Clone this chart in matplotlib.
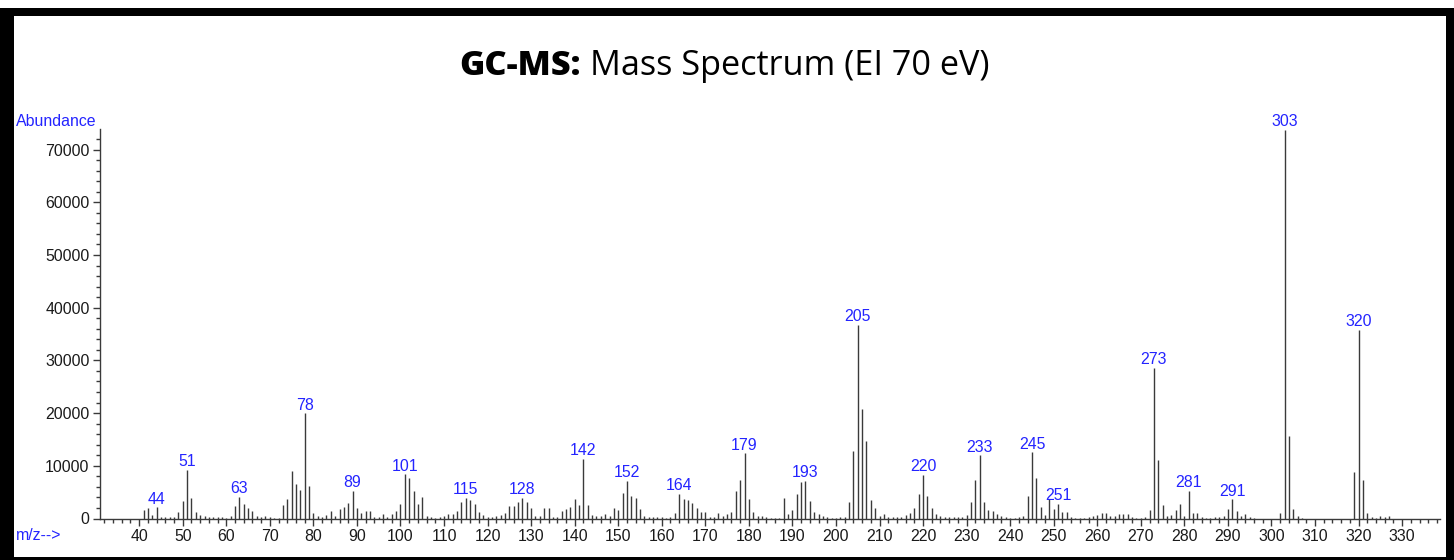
import matplotlib
matplotlib.use("Agg")
import matplotlib.pyplot as plt
from matplotlib.patches import Rectangle
from matplotlib.ticker import MultipleLocator

# ---- data ----
mz = list(range(41, 328))
abundance = [
    1700, 1900, 570, 2090, 300, 200, 250, 200, 1140, 3300,          # 41-50
    9240, 3900, 1270, 570, 380, 250, 250, 200, 200, 150,            # 51-60
    380, 2280, 4100, 2720, 2030, 1330, 500, 300, 440, 300,          # 61-70
    150, 150, 2530, 3730, 8920, 6460, 5500, 19940, 6140, 1080,      # 71-80
    380, 300, 630, 1390, 440, 1840, 2090, 2850, 5300, 2000,         # 81-90
    1010, 1390, 1390, 300, 250, 760, 300, 890, 1390, 2660,          # 91-100
    8360, 7720, 5190, 2660, 4110, 440, 200, 150, 200, 380,          # 101-110
    890, 760, 1460, 3170, 3860, 3420, 2660, 1200, 630, 200,         # 111-120
    200, 440, 700, 1080, 2400, 2280, 3170, 3860, 3040, 2030,        # 121-130
    440, 380, 1900, 2030, 200, 200, 1390, 1770, 2090, 3730,         # 131-140
    2470, 11270, 2530, 700, 440, 380, 890, 380, 2030, 1650,         # 141-150
    4890, 7090, 4300, 3800, 1710, 380, 300, 200, 200, 200,          # 151-160
    150, 200, 1080, 4680, 3730, 3480, 2850, 2030, 1140, 1140,       # 161-170
    200, 250, 1080, 500, 760, 1270, 5130, 7220, 12340, 3730,        # 171-180
    1270, 440, 380, 200, 150, 150, 150, 3860, 760, 1520,            # 181-190
    4560, 6900, 7090, 3350, 1270, 760, 380, 200, 150, 150,          # 191-200
    200, 300, 3170, 12900, 36730, 20760, 14620, 3420, 1900, 380,    # 201-210
    890, 200, 200, 200, 250, 630, 1080, 2030, 4680, 8230,           # 211-220
    4300, 1960, 890, 380, 320, 200, 200, 200, 250, 630,             # 221-230
    3100, 7280, 11960, 3170, 1520, 1460, 760, 380, 200, 150,        # 231-240
    150, 320, 380, 4240, 12530, 7660, 2090, 700, 3610, 1710,        # 241-250
    2720, 1200, 1200, 200, 150, 150, 150, 200, 440, 630,            # 251-260
    1080, 1010, 500, 380, 760, 890, 820, 300, 150, 150,             # 261-270
    200, 1520, 28560, 11140, 2470, 440, 630, 1520, 2720, 380,       # 271-280
    5190, 1080, 1010, 250, 150, 150, 200, 200, 440, 1840,           # 281-290
    3610, 1330, 500, 890, 250, 150, 0, 0, 0, 0,                     # 291-300
    0, 1080, 73740, 15640, 1770, 380, 150, 0, 0, 0,                 # 301-310
    0, 0, 0, 0, 0, 0, 0, 0, 8860, 35780,                            # 311-320
    7220, 950, 200, 150, 500, 320, 380,                             # 321-327
]
labeled_peaks = [44, 51, 63, 78, 89, 101, 115, 128, 142, 152, 164, 179, 193,
                 205, 220, 233, 245, 251, 273, 281, 291, 303, 320]

y_ticks = [0, 10000, 20000, 30000, 40000, 50000, 60000, 70000]
x_ticks = list(range(40, 331, 10))

# ---- figure ----
W, H = 1454, 560
fig = plt.figure(figsize=(W / 100, H / 100), dpi=100)
fig.patch.set_facecolor("white")

ax_left, ax_right, ax_bottom, ax_top = 100, 1440, 518.5, 129
ax = fig.add_axes([ax_left / W, 1 - ax_bottom / H,
                   (ax_right - ax_left) / W, (ax_bottom - ax_top) / H])

blue = "#2424ff"
line_col = "#3a3a3a"
fs = 11.4

ax.vlines(mz, 0, abundance, colors=line_col, linewidth=1.0)
ab_map = dict(zip(mz, abundance))
for p in labeled_peaks:
    ax.annotate(str(p), (p, ab_map[p]), xytext=(0, 0.5), textcoords="offset points",
                ha="center", va="bottom", color=blue, fontsize=fs,
                family="Liberation Sans")

ax.set_xlim(31, 338.7)
ax.set_ylim(0, 73900)

for s in ["top", "right"]:
    ax.spines[s].set_visible(False)
for s in ["left", "bottom"]:
    ax.spines[s].set_color(line_col)
    ax.spines[s].set_linewidth(1.0)

ax.set_xticks(x_ticks)
ax.set_xticklabels([str(t) for t in x_ticks])
ax.xaxis.set_minor_locator(MultipleLocator(2))
ax.set_yticks(y_ticks)
ax.set_yticklabels([str(t) for t in y_ticks])
ax.yaxis.set_minor_locator(MultipleLocator(2000))

ax.tick_params(axis="both", which="major", direction="out", length=5, width=1,
               color=line_col, labelsize=fs, labelcolor="#1a1a1a", pad=2.5)
ax.tick_params(axis="both", which="minor", direction="out", length=3, width=1,
               color=line_col)
for lbl in ax.get_xticklabels() + ax.get_yticklabels():
    lbl.set_family("Liberation Sans")

# axis captions
fig.text(16 / W, 1 - 121 / H, "Abundance", color=blue, fontsize=fs,
         family="Liberation Sans", ha="left", va="center")
fig.text(16 / W, 1 - 536 / H, "m/z-->", color=blue, fontsize=fs,
         family="Liberation Sans", ha="left", va="center")

# title
fig.text(581 / W, 1 - 66 / H, "GC-MS:", fontsize=24.7, fontweight="heavy",
         family="Open Sans", ha="right", va="center", color="black")
fig.text(590 / W, 1 - 66 / H, "Mass Spectrum (EI 70 eV)", fontsize=24.7,
         family="Open Sans", ha="left", va="center", color="black")

# black frame
def frect(x0, y0, x1, y1):
    fig.patches.append(Rectangle((x0 / W, 1 - y1 / H), (x1 - x0) / W, (y1 - y0) / H,
                                 transform=fig.transFigure, facecolor="black",
                                 edgecolor="none", zorder=10))

frect(6, 8, 1454, 15.5)       # top
frect(0, 8, 13.5, 560)        # left
frect(1446, 8, 1454, 560)     # right
frect(0, 557, 1454, 560)      # bottom

fig.savefig("out.png", dpi=100, facecolor="white")
